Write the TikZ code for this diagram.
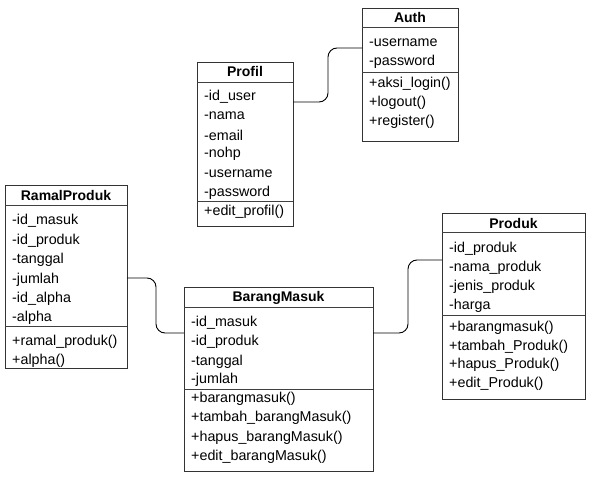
\documentclass[tikz,border=0pt]{standalone}
\usepackage{fontspec}
\setmainfont{Liberation Sans}
\begin{document}
\begin{tikzpicture}[x=1pt,y=-1pt,
  box/.style={draw=black!80, line width=0.9pt, fill=white, anchor=north west, inner sep=0pt, outer sep=0pt},
  sep/.style={draw=black!75, line width=0.9pt},
  attr/.style={anchor=west, inner sep=0pt, yshift=-1pt, font=\fontsize{14.3}{16}\selectfont},
  ttl/.style={inner sep=0pt, yshift=-0.5pt, font=\fontsize{14}{16}\selectfont\bfseries},
  conn/.style={draw=black, line width=0.9pt, rounded corners=9pt}]
\useasboundingbox (0,0) rectangle (594,486);

% Auth
\node[box, minimum width=96pt, minimum height=133pt] (auth) at (362,8) {};
\draw[sep] (auth.west |- 0,27) -- (auth.east |- 0,27);
\draw[sep] (auth.west |- 0,72) -- (auth.east |- 0,72);
\node[ttl] (authT) at (auth.north |- 0,17) {Auth};
\node[attr] (authA1) at (369,42) {-username};
\node[attr] (authA2) at (369,61) {-password};
\node[attr] (authM1) at (369,83) {+aksi\_login()};
\node[attr] (authM2) at (369,102) {+logout()};
\node[attr] (authM3) at (369,121) {+register()};

% Profil
\node[box, minimum width=96pt, minimum height=164pt] (profil) at (197,62) {};
\draw[sep] (profil.west |- 0,82) -- (profil.east |- 0,82);
\draw[sep] (profil.west |- 0,201) -- (profil.east |- 0,201);
\node[ttl] (profilT) at (profil.north |- 0,71) {Profil};
\node[attr] (profilA1) at (204,96) {-id\_user};
\node[attr] (profilA2) at (204,115) {-nama};
\node[attr] (profilA3) at (204,134) {-email};
\node[attr] (profilA4) at (204,153) {-nohp};
\node[attr] (profilA5) at (204,173) {-username};
\node[attr] (profilA6) at (204,192) {-password};
\node[attr] (profilM1) at (204,211) {+edit\_profil()};

% RamalProduk
\node[box, minimum width=122pt, minimum height=183pt] (ramal) at (5,185) {};
\draw[sep] (ramal.west |- 0,205) -- (ramal.east |- 0,205);
\draw[sep] (ramal.west |- 0,326) -- (ramal.east |- 0,326);
\node[ttl] (ramalT) at (ramal.north |- 0,195) {RamalProduk};
\node[attr] (ramalA1) at (12,220) {-id\_masuk};
\node[attr] (ramalA2) at (12,240) {-id\_produk};
\node[attr] (ramalA3) at (12,259) {-tanggal};
\node[attr] (ramalA4) at (12,279) {-jumlah};
\node[attr] (ramalA5) at (12,298) {-id\_alpha};
\node[attr] (ramalA6) at (12,317) {-alpha};
\node[attr] (ramalM1) at (12,341) {+ramal\_produk()};
\node[attr] (ramalM2) at (12,360) {+alpha()};

% BarangMasuk
\node[box, minimum width=189pt, minimum height=184pt] (barang) at (184,287) {};
\draw[sep] (barang.west |- 0,307) -- (barang.east |- 0,307);
\draw[sep] (barang.west |- 0,389) -- (barang.east |- 0,389);
\node[ttl] (barangT) at (barang.north |- 0,297) {BarangMasuk};
\node[attr] (barangA1) at (191,322) {-id\_masuk};
\node[attr] (barangA2) at (191,341) {-id\_produk};
\node[attr] (barangA3) at (191,361) {-tanggal};
\node[attr] (barangA4) at (191,379) {-jumlah};
\node[attr] (barangM1) at (191,398) {+barangmasuk()};
\node[attr] (barangM2) at (191,417) {+tambah\_barangMasuk()};
\node[attr] (barangM3) at (191,437) {+hapus\_barangMasuk()};
\node[attr] (barangM4) at (191,456) {+edit\_barangMasuk()};

% Produk
\node[box, minimum width=143pt, minimum height=186pt] (produk) at (442,213) {};
\draw[sep] (produk.west |- 0,232) -- (produk.east |- 0,232);
\draw[sep] (produk.west |- 0,315) -- (produk.east |- 0,315);
\node[ttl] (produkT) at (produk.north |- 0,223) {Produk};
\node[attr] (produkA1) at (449,248) {-id\_produk};
\node[attr] (produkA2) at (449,267) {-nama\_produk};
\node[attr] (produkA3) at (449,286) {-jenis\_produk};
\node[attr] (produkA4) at (449,305) {-harga};
\node[attr] (produkM1) at (449,327) {+barangmasuk()};
\node[attr] (produkM2) at (449,346) {+tambah\_Produk()};
\node[attr] (produkM3) at (449,364) {+hapus\_Produk()};
\node[attr] (produkM4) at (449,383) {+edit\_Produk()};

% connectors
\coordinate (c1a) at (profil.east |- 0,102);
\coordinate (c1b) at (auth.west |- 0,48);
\coordinate (c1m) at (328,48);
\draw[conn] (c1a) -| (c1m) -- (c1b);

\coordinate (c2a) at (ramal.east |- 0,278);
\coordinate (c2b) at (barang.west |- 0,333);
\coordinate (c2m) at (156,333);
\draw[conn] (c2a) -| (c2m) -- (c2b);

\coordinate (c3a) at (barang.east |- 0,333);
\coordinate (c3b) at (produk.west |- 0,260);
\coordinate (c3m) at (408,260);
\draw[conn] (c3a) -| (c3m) -- (c3b);
\end{tikzpicture}
\end{document}
